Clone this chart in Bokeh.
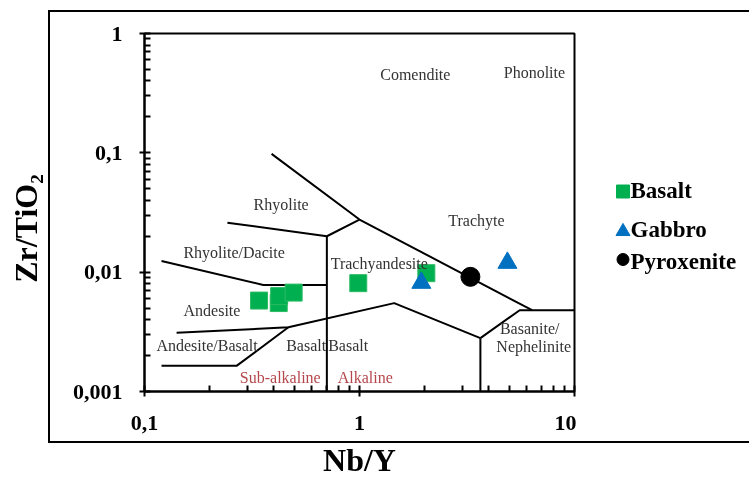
from bokeh.plotting import figure
from bokeh.layouts import row
from bokeh.models import (ColumnDataSource, LabelSet, Range1d,
                          FixedTicker, CustomJSTickFormatter, InlineStyleSheet)
from bokeh.core.properties import value
from bokeh.embed import file_html
from bokeh.resources import INLINE

# ---------------- data ----------------
basalt_x = [0.341, 0.421, 0.423, 0.494, 0.987, 2.046]
basalt_y = [0.00578, 0.00551, 0.0063, 0.00674, 0.00809, 0.00981]
gabbro_x = [1.939, 4.875]
gabbro_y = [0.00814, 0.01197]
pyroxenite_x = [3.28]
pyroxenite_y = [0.00914]

# field boundaries (Nb/Y vs Zr/TiO2 classification)
boundary_x = [
    [0.39, 1.0, 6.35],
    [0.243, 0.705, 1.0],
    [0.705, 0.705],
    [0.12, 0.357, 0.705],
    [0.141, 0.467, 1.45, 3.65],
    [0.12, 0.268, 0.467],
    [3.65, 3.65],
    [3.65, 5.56, 10.0],
]
boundary_y = [
    [0.098, 0.0276, 0.0048],
    [0.026, 0.020, 0.0276],
    [0.020, 0.001],
    [0.0124, 0.0078, 0.0078],
    [0.0031, 0.00345, 0.0055, 0.0028],
    [0.00164, 0.00164, 0.00345],
    [0.0028, 0.001],
    [0.0028, 0.0048, 0.0048],
]

field_names = ["Comendite", "Phonolite", "Rhyolite", "Trachyte", "Rhyolite/Dacite",
               "Trachyandesite", "Andesite", "Andesite/Basalt", "Basalt", "Basalt"]
field_x = [1.818, 6.51, 0.432, 3.50, 0.261, 1.236, 0.206, 0.1954, 0.565, 0.886]
field_y = [0.454, 0.4718, 0.0371, 0.0272, 0.0147, 0.0119, 0.00481, 0.00245, 0.00245, 0.00245]

left_names = ["Basanite/", "Nephelinite"]
left_x = [4.5, 4.33]
left_y = [0.00334, 0.00236]

series_names = ["Sub-alkaline", "Alkaline"]
series_x = [0.428, 1.064]
series_y = [0.00132, 0.00132]

x_ticks = [0.1, 1, 10]
x_tick_labels = ["0,1", "1", "10"]
y_ticks = [0.001, 0.01, 0.1, 1]
y_tick_labels = ["0,001", "0,01", "0,1", "1"]

legend_names = ["Basalt", "Gabbro", "Pyroxenite"]
legend_colors = ["#00b050", "#0070c0", "black"]
legend_markers = ["square", "triangle", "circle"]

SERIF = "Liberation Serif"
FIG_H = 500            # canvas a little taller than the window; page is pinned, no scrolling
TOP, BOTTOM = 33, 109  # frame from y=33 to y=391

p = figure(width=576, height=FIG_H, x_axis_type="log", y_axis_type="log",
           x_range=(0.1, 10), y_range=(0.001, 1),
           output_backend="svg", toolbar_location=None,
           min_border_left=144, min_border_right=2,
           min_border_top=TOP, min_border_bottom=BOTTOM)
p.grid.visible = False
p.outline_line_color = "black"
p.outline_line_width = 2
p.background_fill_color = "white"
p.border_fill_color = "white"

x_minor = [m * 10.0 ** e for e in (-1, 0) for m in range(2, 10)]
y_minor = [m * 10.0 ** e for e in (-3, -2, -1) for m in range(2, 10)]
p.xaxis.ticker = FixedTicker(ticks=x_ticks, minor_ticks=x_minor)
p.yaxis.ticker = FixedTicker(ticks=y_ticks, minor_ticks=y_minor)

fmt_code = """
let best = 0; let d = Infinity;
for (let i = 0; i < vals.length; i++) {
  const dd = Math.abs(Math.log10(tick) - Math.log10(vals[i]));
  if (dd < d) { d = dd; best = i; }
}
return labs[best];
"""
p.xaxis.formatter = CustomJSTickFormatter(args=dict(vals=x_ticks, labs=x_tick_labels), code=fmt_code)
p.yaxis.formatter = CustomJSTickFormatter(args=dict(vals=y_ticks, labs=y_tick_labels), code=fmt_code)

for ax in (p.xaxis[0], p.yaxis[0]):
    ax.axis_line_width = 2
    ax.axis_line_color = "black"
    ax.major_tick_line_width = 2
    ax.minor_tick_line_width = 2
    ax.major_tick_in = 6
    ax.major_tick_out = 5
    ax.minor_tick_in = 6
    ax.minor_tick_out = 0
    ax.major_label_text_font = SERIF
    ax.major_label_text_font_style = "bold"
    ax.major_label_text_font_size = "22px"
    ax.major_label_text_color = "black"
    ax.axis_label_text_font = SERIF
    ax.axis_label_text_font_style = "bold"
    ax.axis_label_text_font_size = "32px"
    ax.axis_label_text_color = "black"

p.xaxis.major_label_standoff = 19
p.xaxis.axis_label = "Nb/Y"
p.xaxis.axis_label_standoff = 9
p.yaxis.major_label_standoff = 17
p.yaxis.axis_label = "Zr/TiO\u2082\u2003"
p.yaxis.axis_label_standoff = 26

# boundaries
p.multi_line(xs=boundary_x, ys=boundary_y, line_color="black", line_width=2)

# field labels
src_f = ColumnDataSource(dict(x=field_x, y=field_y, t=field_names))
p.add_layout(LabelSet(x="x", y="y", text="t", source=src_f, text_align="center",
                      text_baseline="middle", text_font=SERIF, text_font_size="16px",
                      text_color="#333333"))
src_l = ColumnDataSource(dict(x=left_x, y=left_y, t=left_names))
p.add_layout(LabelSet(x="x", y="y", text="t", source=src_l, text_align="left",
                      text_baseline="middle", text_font=SERIF, text_font_size="16px",
                      text_color="#333333"))
src_s = ColumnDataSource(dict(x=series_x, y=series_y, t=series_names))
p.add_layout(LabelSet(x="x", y="y", text="t", source=src_s, text_align="center",
                      text_baseline="middle", text_font=SERIF, text_font_size="16px",
                      text_color="#b5474b"))

# samples
p.scatter(basalt_x, basalt_y, marker="square", size=17,
          fill_color=legend_colors[0], line_color="#2cbb62", line_width=1)
p.scatter(gabbro_x, gabbro_y, marker="triangle", size=19,
          fill_color=legend_colors[1], line_color=legend_colors[1])
p.scatter(pyroxenite_x, pyroxenite_y, marker="circle", size=19,
          fill_color=legend_colors[2], line_color=legend_colors[2])

# ---------------- legend panel (separate figure to the right, pixel-like coords) ----------------
q = figure(width=173, height=FIG_H, x_range=Range1d(0, 173), y_range=Range1d(391, 33),
           x_axis_location=None, y_axis_location=None,
           output_backend="svg", toolbar_location=None,
           min_border_left=0, min_border_right=0,
           min_border_top=TOP, min_border_bottom=BOTTOM, outline_line_color=None)
q.grid.visible = False
q.background_fill_color = "white"
q.border_fill_color = "white"

swatch_x = 46.5
text_x = 54
text_rows = [190, 229, 261]
swatch_rows = [191, 231, 259]
swatch_sizes = [13, 14, 12]

leg_src = ColumnDataSource(dict(
    mx=[swatch_x] * len(legend_names), my=swatch_rows, marker=legend_markers,
    color=legend_colors, size=swatch_sizes,
    tx=[text_x] * len(legend_names), ty=text_rows, name=legend_names))
q.scatter(x="mx", y="my", marker="marker", size="size", fill_color="color",
          line_color="color", source=leg_src)
q.text(x="tx", y="ty", text="name", source=leg_src, text_align="left",
       text_baseline="middle", text_font=value(SERIF), text_font_style="bold",
       text_font_size="23px", text_color="black")

layout = row(p, q, spacing=0)

# pin the page (no scrollbars) and draw the outer frame (left, top and bottom edges)
layout.stylesheets = [InlineStyleSheet(css="""
:host {
  position: fixed !important;
  left: 0px !important;
  top: 0px !important;
}
:host::after {
  content: "";
  position: absolute;
  left: 48px;
  top: 10px;
  width: 701px;
  height: 433px;
  box-sizing: border-box;
  border-left: 2.5px solid #000;
  border-top: 2.5px solid #000;
  border-bottom: 2.5px solid #000;
  pointer-events: none;
  z-index: 5;
}
""")]

open("out.html", "w").write(file_html(layout, INLINE))
